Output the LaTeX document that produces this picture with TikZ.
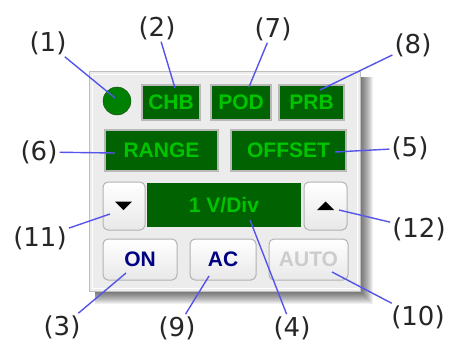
\documentclass[tikz,border=0pt]{standalone}
\usepackage{fontspec}
\setmainfont{DejaVu Sans}
\newfontfamily\panelfont{Liberation Sans}
\usetikzlibrary{positioning}
\definecolor{lcdbg}{RGB}{0,98,0}
\definecolor{lcdfg}{RGB}{0,196,0}
\definecolor{leadblue}{RGB}{85,85,235}
\definecolor{btnblue}{RGB}{0,0,130}
\definecolor{panelgray}{RGB}{236,236,236}
\definecolor{framegray}{RGB}{190,190,190}

\tikzset{
  lcd/.style={draw=gray!55,line width=2pt,fill=lcdbg,text=lcdfg,inner sep=0pt,
    font=\panelfont\bfseries\fontsize{21}{21}\selectfont},
  knob/.style={draw=gray!60,line width=1pt,rounded corners=5pt,top color=white,
    bottom color=gray!18,inner sep=0pt,text=btnblue,
    font=\panelfont\bfseries\fontsize{21}{21}\selectfont},
  tag/.style={inner sep=2pt,text=black!85,font=\fontsize{26}{26}\selectfont},
  lead/.style={draw=leadblue,line width=1.4pt}
}

\begin{document}
\begin{tikzpicture}[x=1pt,y=-1pt]
\useasboundingbox (0,0) rectangle (449,343);

%%%%% panel
\foreach \s in {1,...,13}
  \fill[black,opacity=0.06] (95,77) rectangle (360+\s,291+\s);
\draw[framegray,fill=panelgray,line width=1pt] (89,71) rectangle (360,291);
\draw[white,line width=1pt] (92,74) rectangle (357,288);

%%%%% top row
\node[circle,fill=green!50!black,draw=gray!60!green!40!black,minimum size=28pt,inner sep=0pt] (led) at (117,101) {};
\node[lcd,minimum width=58pt,minimum height=35pt] (chb) at (171,102) {CHB};
\node[lcd,minimum width=60pt,minimum height=35pt] (pod) at (241,102) {POD};
\node[lcd,minimum width=65pt,minimum height=35pt] (prb) at (311.5,102) {PRB};

%%%%% second row
\node[lcd,minimum width=113pt,minimum height=41pt] (range) at (161.5,150) {RANGE};
\node[lcd,minimum width=115pt,minimum height=41pt] (offset) at (288.5,150) {OFFSET};

%%%%% third row
\node[knob,minimum width=42pt,minimum height=48pt] (down) at (124,206) {};
\fill[black] (115,201.5) -- (132,201.5) -- (123.5,210) -- cycle;
\node[lcd,draw=none,minimum width=154pt,minimum height=44pt] (disp) at (224,205) {1 V/Div};
\node[knob,minimum width=43pt,minimum height=48pt] (up) at (325.5,206) {};
\fill[black] (317,210) -- (334,210) -- (325.5,201.5) -- cycle;

%%%%% bottom row
\node[knob,minimum width=74pt,minimum height=41pt] (on) at (140,259.5) {ON};
\node[knob,minimum width=66pt,minimum height=41pt] (ac) at (223,259.5) {AC};
\node[knob,minimum width=79pt,minimum height=41pt,text=gray!40] (auto) at (308.5,259.5) {AUTO};

%%%%% labels
\node[tag] (l1) at (48,43) {(1)};
\node[tag] (l2) at (157,28) {(2)};
\node[tag] (l7) at (273,29) {(7)};
\node[tag] (l8) at (413,45) {(8)};
\node[tag] (l6) at (39,152) {(6)};
\node[tag] (l5) at (410,148) {(5)};
\node[tag] (l11) at (40,238) {(11)};
\node[tag] (l12) at (419,229) {(12)};
\node[tag] (l3) at (62,327) {(3)};
\node[tag] (l9) at (177,328) {(9)};
\node[tag] (l4) at (292,328) {(4)};
\node[tag] (l10) at (418,317) {(10)};

\coordinate (p1) at (115,98);
\coordinate (p2) at (175,88);
\coordinate (p7) at (249,87);
\coordinate (p8) at (320,90);
\coordinate (p6) at (115,153);
\coordinate (p5) at (335,152);
\coordinate (p11) at (110,214);
\coordinate (p12) at (339,210);
\coordinate (p3) at (126,273);
\coordinate (p9) at (209,276);
\coordinate (p4) at (250,220);
\coordinate (p10) at (332,272);

\foreach \a in {1,2,7,8,6,5,11,12,3,9,4,10}
  \draw[lead] (l\a) -- (p\a);

\end{tikzpicture}
\end{document}
